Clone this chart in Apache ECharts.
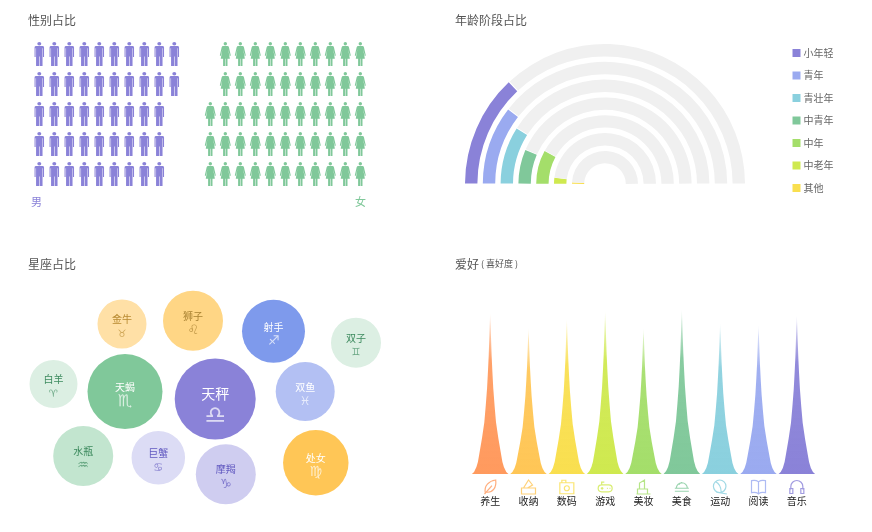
<!DOCTYPE html>
<html><head><meta charset="utf-8">
<style>html,body{margin:0;padding:0;background:#fff}#c{width:872px;height:532px}</style>
<script src="https://cdn.jsdelivr.net/npm/echarts@6/dist/echarts.min.js"></script>
</head><body><div id="c"></div>
<script>
var FONT = '"Noto Sans CJK SC","Noto Sans",sans-serif';
// gender
var genderRows = ['r1','r2','r3','r4','r5'];
var maleCounts = [10,10,9,9,9];
var femaleCounts = [10,10,11,11,11];
// age
var ageNames = ['小年轻','青年','青壮年','中青年','中年','中老年','其他'];
var ageValues = [26,21,18,13,16,4,1.5];
var ageColors = ['#8a82d8','#9aaaf0','#8ad0de','#80c89a','#a4de6a','#cfe94f','#f9df4f'];
// zodiac
var zodiacNames = ['金牛','狮子','射手','双子','白羊','天蝎','天秤','双鱼','水瓶','巨蟹','摩羯','处女'];
var zodiacSigns = ['♉','♌','♐','♊','♈','♏','♎','♓','♒','♋','♑','♍'];
var zodiacX = [102,173,253.5,336,33.5,105,195.2,285.2,63.2,138.3,205.8,295.8];
var zodiacY = [39,35.8,46.3,57.7,99,106.6,114,106.5,171,172.7,189.2,177.8];
var zodiacSize = [49,60,63,50,48,75,81,59,60,53.5,60,65.5];
var zodiacColors = ['#ffe0a6','#ffd685','#7e9aec','#dcefe3','#dcefe3','#80c89a','#8a82d8','#b3c0f3','#c2e5cf','#dcdcf5','#cfcdf0','#ffc656'];
var zodiacText = ['#b88a30','#a98232','#ffffff','#3c8a5e','#3c8a5e','#ffffff','#ffffff','#ffffff','#3c8a5e','#6159c0','#6159c0','#ffffff'];
// hobby
var hobbyNames = ['养生','收纳','数码','游戏','美妆','美食','运动','阅读','音乐'];
var hobbyValues = [162,147,156,164,147,166,152,150,160];
var hobbyColors = ['#ff9a5e','#ffc656','#f9df4f','#cfe94f','#a4de6a','#80c89a','#8ad0de','#9aaaf0','#8a82d8'];
var hobbyIconRow = [0,0,0,0,0,0,0,0,0];

var MALE = 'path://M10,0a3.6,3.6 0 1 1 -0.01,0zM4.5,8.5H15.5Q18.5,8.5 18.5,11.5V31H16.6V13H15.8V50H10.5V30H9.5V50H4.2V13H3.4V31H1.5V11.5Q1.5,8.5 4.5,8.5Z';
var FEMALE = 'path://M12,0a3.6,3.6 0 1 1 -0.01,0zM7.5,8.5H16.5Q19,8.5 19.6,11L23.5,28L21.5,29L18,15L21.5,35H16.6V50H12.5V35H11.5V50H7.4V35H2.5L6,15L2.5,29L0.5,28L4.4,11Q5,8.5 7.5,8.5Z';
var SPIKE = 'path://M0,100Q14,98 20,88Q28,78 34,68Q38,58 41.5,47Q44,37 46,27Q48.5,10 50,0Q51.5,10 54,27Q56,37 58.5,47Q62,58 66,68Q72,78 80,88Q86,98 100,100Z';
var ICONS = [
 'path://M3,15C1,7 7,2 14,1C15,9 11,15 4,14M2,16L10,7',
 'path://M1,9H15V15H1ZM3,9L8,1L12,6L7,9',
 'path://M1,4H15V15H1ZM3,4V1.5H7V4M10.5,9.5A2.5,2.5 0 1 1 5.5,9.5A2.5,2.5 0 1 1 10.5,9.5Z',
 'path://M4,5H12Q16,5 16,9Q16,13 12,13H4Q0,13 0,9Q0,5 4,5ZM3,9H6M4.5,7.5V10.5M10,9H11M13,9H14M4,5V2H7',
 'path://M2,15H12V10H2ZM4,10V4L9,1V10M1,15H15',
 'path://M1,12H15M2.5,12A5.5,5.5 0 0 1 13.5,12M5,8.5A4,4 0 0 1 8,6.5M1,15H15',
 'path://M14,8A6.5,6.5 0 1 1 1,8A6.5,6.5 0 1 1 14,8ZM3,3Q9,6 9,14M4,14L15,16',
 'path://M1,2Q5,1 8,3V15Q5,13 1,14ZM15,2Q11,1 8,3V15Q11,13 15,14Z',
 'path://M2,11V8A6,6 0 0 1 14,8V11M1,10H4V15H1ZM12,10H15V15H12Z'
];

function fade(c){
  return {type:'linear',x:0,y:0,x2:0,y2:1,colorStops:[
    {offset:0,color:c+'00'},{offset:0.08,color:c+'66'},{offset:0.3,color:c+'ee'},{offset:1,color:c}]};
}
var T = {color:'#555',fontSize:12,fontWeight:'normal',fontFamily:FONT};
function title(txt,l,t,style){return {text:txt,left:l,top:t,padding:0,textStyle:style||T};}

var rings = [[127.6,140],[109.8,122.2],[92,104.4],[74.2,86.6],[56.4,68.8],[38.6,51],[20.8,33]];
var pieSeries = ageValues.map(function(v,i){
  return {type:'pie',silent:true,center:[605,184],radius:rings[i],startAngle:180,endAngle:0,padAngle:0.5,
    label:{show:false},labelLine:{show:false},animation:false,
    data:[{name:ageNames[i],value:v,itemStyle:{color:ageColors[i]}},
          {name:'rest'+i,value:100-v,itemStyle:{color:'#f0f0f0'}}]};
});

var option = {
  animation:false,
  textStyle:{fontFamily:FONT},
  title:[
    title('性别占比',28,14),
    title('年龄阶段占比',455,14),
    title('星座占比',28,258),
    {text:'{a|爱好}{b| ( 喜好度 )}',left:455,top:258,padding:0,textStyle:{fontWeight:'normal',rich:{
      a:{color:'#555',fontSize:12,fontWeight:'normal',fontFamily:FONT},b:{color:'#555',fontSize:9,fontWeight:'normal',fontFamily:FONT}}}},
    title('男',31,196,{color:'#8a82d8',fontSize:11,fontWeight:'normal',fontFamily:FONT}),
    title('女',355,196,{color:'#80c89a',fontSize:11,fontWeight:'normal',fontFamily:FONT})
  ],
  legend:{orient:'vertical',left:792.5,top:48,padding:0,itemWidth:8,itemHeight:8,itemGap:12.5,icon:'rect',
    selectedMode:false,data:ageNames,textStyle:{color:'#666',fontSize:10,fontFamily:FONT,padding:[0,0,0,-2]}},
  grid:[
    {left:31.8,top:39,width:150,height:150},
    {left:202.8,top:39,width:165,height:150},
    {left:20,top:285,width:370,height:225},
    {left:471,top:294,width:345,height:180},
    {left:471,top:479,width:345,height:16}
  ],
  xAxis:[
    {gridIndex:0,type:'value',min:0,max:10,show:false},
    {gridIndex:1,type:'value',min:0,max:11,inverse:true,show:false},
    {gridIndex:2,type:'value',min:0,max:370,show:false},
    {gridIndex:3,type:'category',data:hobbyNames,axisLine:{show:false},axisTick:{show:false},
      axisLabel:{margin:22,color:'#222',fontSize:10,fontFamily:FONT,interval:0}},
    {gridIndex:4,type:'category',data:hobbyNames,show:false}
  ],
  yAxis:[
    {gridIndex:0,type:'category',data:genderRows,inverse:true,show:false},
    {gridIndex:1,type:'category',data:genderRows,inverse:true,show:false},
    {gridIndex:2,type:'value',min:0,max:225,inverse:true,show:false},
    {gridIndex:3,type:'value',min:0,max:180,show:false},
    {gridIndex:4,type:'value',min:-1,max:1,show:false}
  ],
  series:[
    {type:'pictorialBar',xAxisIndex:0,yAxisIndex:0,silent:true,symbol:MALE,symbolRepeat:true,symbolSize:[9.5,24],symbolMargin:'2.75!',
      itemStyle:{color:'#8a82d8'},data:maleCounts},
    {type:'pictorialBar',xAxisIndex:1,yAxisIndex:1,silent:true,symbol:FEMALE,symbolRepeat:true,symbolSize:[11,24],symbolMargin:'2!',
      itemStyle:{color:'#80c89a'},data:femaleCounts}
  ].concat(pieSeries).concat([
    {type:'scatter',xAxisIndex:2,yAxisIndex:2,silent:true,
      data:zodiacNames.map(function(n,i){
        var d=zodiacSize[i],big=d>=80;
        return {name:n,value:[zodiacX[i],zodiacY[i]],symbolSize:d,
          itemStyle:{color:zodiacColors[i],opacity:1},
          label:{show:true,position:'inside',offset:[0,big?7:3],formatter:'{n|'+n+'}\n{s|'+zodiacSigns[i]+'}',
            rich:{n:{color:zodiacText[i],fontSize:big?14:10,lineHeight:big?22:14,fontFamily:FONT,align:'center'},
                  s:{color:zodiacText[i],opacity:.7,fontSize:big?24:Math.round(d/4.8),lineHeight:big?24:15,fontFamily:'"DejaVu Sans"',align:'center'}}}};
      })},
    {type:'pictorialBar',xAxisIndex:3,yAxisIndex:3,silent:true,symbol:SPIKE,barWidth:36.5,
      symbolSize:['100%','100%'],
      data:hobbyValues.map(function(v,i){return {value:v,itemStyle:{color:fade(hobbyColors[i])}};})},
    {type:'scatter',xAxisIndex:4,yAxisIndex:4,silent:true,symbolSize:14,symbolKeepAspect:true,
      data:hobbyIconRow.map(function(v,i){
        return {value:[hobbyNames[i],v],symbol:ICONS[i],
          itemStyle:{color:'rgba(0,0,0,0)',borderColor:hobbyColors[i],borderWidth:1.2}};
      })}
  ])
};
var chart = echarts.init(document.getElementById('c'),null,{renderer:'canvas'});
chart.setOption(option);
</script></body></html>
